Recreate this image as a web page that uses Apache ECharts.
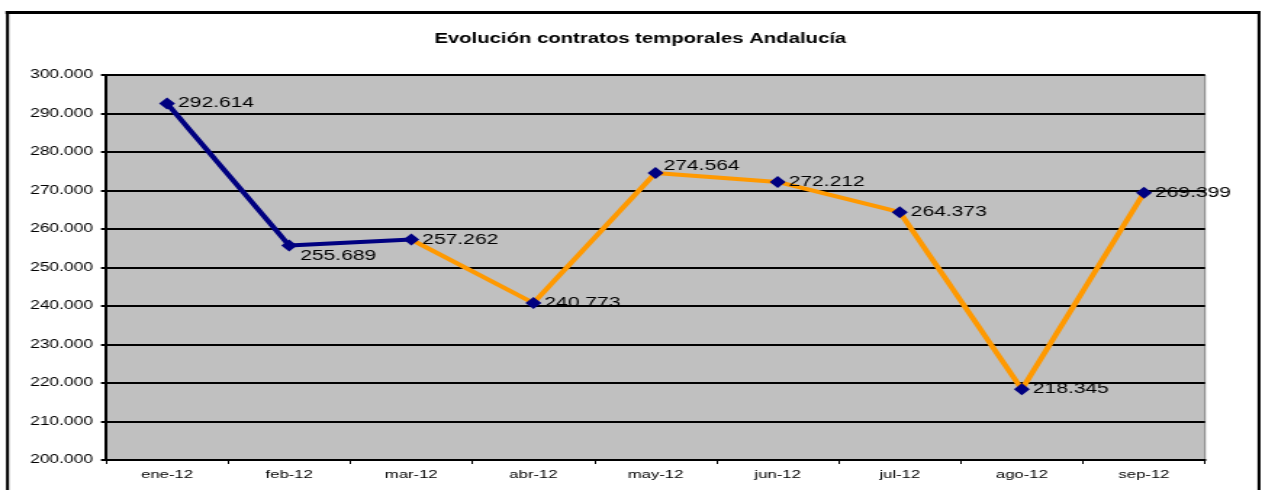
<!DOCTYPE html>
<html>
<head>
<meta charset="utf-8">
<script src="https://cdn.jsdelivr.net/npm/echarts@6/dist/echarts.min.js"></script>
<style>
  html, body { margin: 0; padding: 0; background: #fff; overflow: hidden; }
  /* the original picture is stretched sideways, so draw narrower and widen it */
  #chart { width: 870px; height: 490px; transform: scaleX(1.4506); transform-origin: 0 0; }
</style>
</head>
<body>
<div id="chart"></div>
<script>
const months = ['ene-12', 'feb-12', 'mar-12', 'abr-12', 'may-12', 'jun-12', 'jul-12', 'ago-12', 'sep-12']
const contratos = [292614, 255689, 257262, 240773, 274564, 272212, 264373, 218345, 269399]
// first three months drawn navy, the rest orange
const splitIndex = 2

const S = 1262 / 870
const px = v => v / S // page x -> chart x

const fmt = v => v.toLocaleString('de-DE')
const font = 'Liberation Sans, Arial, sans-serif'

// label nudges per point, to sit like the original
const labelNudge = { 1: [0, 10], 4: [px(-3), -7] }

const navy = '#000080'
const orange = '#FF9900'

function seriesData(from, to) {
  return contratos.map((v, i) => (i >= from && i <= to) ? v : '-')
}

const chart = echarts.init(document.getElementById('chart'))

chart.setOption({
  animation: false,
  backgroundColor: '#fff',
  title: {
    text: 'Evolución contratos temporales Andalucía',
    left: px(633),
    textAlign: 'center',
    top: 27,
    textStyle: { fontFamily: font, fontSize: 14, fontWeight: 'bold', color: '#000' },
  },
  graphic: [
    { type: 'line', shape: { x1: px(5.5), y1: 12.5, x2: px(1260.5), y2: 12.5 }, style: { stroke: '#000', lineWidth: 3 }, silent: true },
    { type: 'line', shape: { x1: px(7.5), y1: 11, x2: px(7.5), y2: 500 }, style: { stroke: '#000', lineWidth: 3 / S }, silent: true },
    { type: 'line', shape: { x1: px(1259), y1: 11, x2: px(1259), y2: 500 }, style: { stroke: '#000', lineWidth: 3 / S }, silent: true },
  ],
  grid: {
    left: px(106), top: 75, width: px(1099), height: 385,
    show: true, backgroundColor: '#C0C0C0', borderColor: '#808080', borderWidth: 1,
  },
  xAxis: {
    type: 'category',
    data: months,
    boundaryGap: true,
    axisLine: { lineStyle: { color: '#000', width: 2 } },
    axisTick: { show: true, length: 4, lineStyle: { color: '#000', width: 1 } },
    axisLabel: { color: '#000', fontFamily: font, fontSize: 11.5, margin: 9 },
  },
  yAxis: {
    type: 'value',
    min: 200000, max: 300000, interval: 10000,
    axisLine: { show: true, lineStyle: { color: '#000', width: 2 } },
    axisTick: { show: true, length: px(5), lineStyle: { color: '#000', width: 2 } },
    splitLine: { lineStyle: { color: '#000', width: 2 } },
    axisLabel: {
      color: '#000', fontFamily: font, fontSize: 12, margin: px(13),
      formatter: v => v.toLocaleString('de-DE', { minimumFractionDigits: 3, maximumFractionDigits: 3 }).replace(',', '.').replace(/^(\d+)\.(\d+)\.(\d{3})$/, '$1.$2'),
    },
  },
  series: [
    {
      type: 'line',
      data: seriesData(0, splitIndex),
      lineStyle: { color: navy, width: 4 },
      symbol: 'none',
      z: 2,
    },
    {
      type: 'line',
      data: seriesData(splitIndex, contratos.length - 1),
      lineStyle: { color: orange, width: 4 },
      symbol: 'none',
      z: 2,
    },
    {
      type: 'line',
      data: contratos.map((v, i) => ({
        value: v,
        label: labelNudge[i] ? { offset: labelNudge[i] } : undefined,
      })),
      lineStyle: { opacity: 0 },
      symbol: 'diamond',
      symbolSize: [px(16), 12],
      itemStyle: { color: navy },
      label: {
        show: true,
        position: 'right',
        distance: px(3),
        color: '#000',
        fontFamily: font,
        fontSize: 14.5,
        formatter: p => fmt(p.value),
      },
      z: 3,
    },
  ],
})
</script>
</body>
</html>
